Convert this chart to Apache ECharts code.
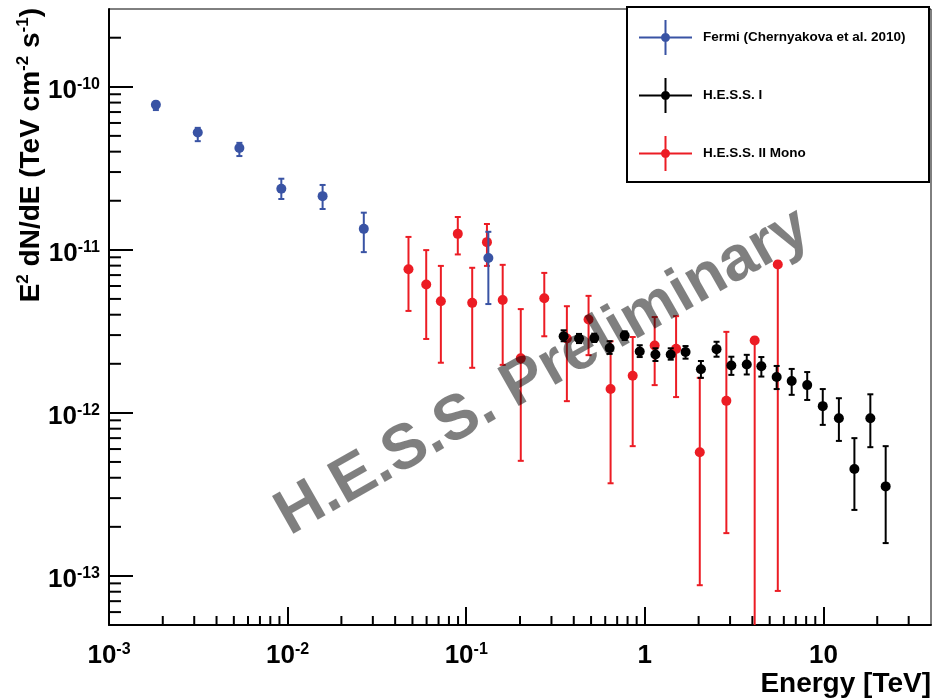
<!DOCTYPE html>
<html>
<head>
<meta charset="utf-8">
<script src="https://cdn.jsdelivr.net/npm/echarts@6/dist/echarts.min.js"></script>
<style>
  html, body { margin: 0; padding: 0; background: #fff; }
  #spectrumChart { width: 932px; height: 700px; }
</style>
</head>
<body>
<div id="spectrumChart"></div>
<script>
// Fermi (Chernyakova et al. 2010)
var fermiE  = [1.83e-3, 3.14e-3, 5.37e-3, 9.22e-3, 1.57e-2, 2.67e-2, 0.133];
var fermiF  = [7.76e-11, 5.25e-11, 4.21e-11, 2.37e-11, 2.135e-11, 1.345e-11, 8.9e-12];
var fermiLo = [7.2e-11, 4.64e-11, 3.76e-11, 2.05e-11, 1.78e-11, 9.68e-12, 4.65e-12];
var fermiHi = [8.1e-11, 5.6e-11, 4.53e-11, 2.73e-11, 2.5e-11, 1.69e-11, 1.29e-11];

// H.E.S.S. I
var hessE  = [0.351, 0.428, 0.521, 0.635, 0.771, 0.936, 1.146, 1.396, 1.69, 2.06, 2.52,
              3.05, 3.72, 4.49, 5.47, 6.64, 8.11, 9.91, 12.2, 14.9, 18.3, 22.3];
var hessF  = [2.95e-12, 2.86e-12, 2.88e-12, 2.50e-12, 2.98e-12, 2.38e-12, 2.28e-12, 2.28e-12, 2.36e-12, 1.85e-12, 2.46e-12,
              1.95e-12, 1.98e-12, 1.93e-12, 1.66e-12, 1.57e-12, 1.48e-12, 1.10e-12, 9.28e-13, 4.53e-13, 9.28e-13, 3.54e-13];
var hessLo = [2.75e-12, 2.68e-12, 2.72e-12, 2.30e-12, 2.80e-12, 2.20e-12, 2.08e-12, 2.12e-12, 2.15e-12, 1.64e-12, 2.21e-12,
              1.71e-12, 1.72e-12, 1.67e-12, 1.40e-12, 1.29e-12, 1.20e-12, 8.44e-13, 6.73e-13, 2.54e-13, 6.16e-13, 1.59e-13];
var hessHi = [3.21e-12, 3.05e-12, 3.06e-12, 2.75e-12, 3.16e-12, 2.60e-12, 2.49e-12, 2.49e-12, 2.57e-12, 2.08e-12, 2.73e-12,
              2.21e-12, 2.27e-12, 2.20e-12, 1.94e-12, 1.86e-12, 1.78e-12, 1.40e-12, 1.23e-12, 7.0e-13, 1.30e-12, 6.25e-13];

// H.E.S.S. II Mono
var monoE  = [0.0475, 0.0597, 0.0721, 0.0897, 0.108, 0.1306, 0.160, 0.202, 0.2735, 0.366,
              0.484, 0.643, 0.855, 1.135, 1.496, 2.03, 2.86, 4.12, 5.55];
var monoF  = [7.61e-12, 6.13e-12, 4.84e-12, 1.253e-11, 4.73e-12, 1.115e-11, 4.93e-12, 2.16e-12, 5.05e-12, 2.86e-12,
              3.74e-12, 1.40e-12, 1.69e-12, 2.59e-12, 2.47e-12, 5.74e-13, 1.185e-12, 2.78e-12, 8.13e-12];
var monoLo = [4.22e-12, 2.84e-12, 2.03e-12, 9.37e-12, 1.89e-12, 7.97e-12, 1.97e-12, 5.08e-13, 2.95e-12, 1.18e-12,
              2.26e-12, 3.7e-13, 6.25e-13, 1.48e-12, 1.25e-12, 8.77e-14, 1.83e-13, 1e-15, 8.09e-14];
var monoHi = [1.2e-11, 9.96e-12, 7.97e-12, 1.59e-11, 7.76e-12, 1.44e-11, 8.09e-12, 4.33e-12, 7.22e-12, 4.51e-12,
              5.22e-12, 2.75e-12, 2.92e-12, 3.87e-12, 3.92e-12, 1.64e-12, 3.14e-12, 2.9e-12, 8.5e-12];

var seriesNames = ['Fermi (Chernyakova et al. 2010)', 'H.E.S.S. I', 'H.E.S.S. II Mono'];
var seriesColors = ['#3953a4', '#000000', '#ec1c24'];

// axis ranges
var xMin = 1e-3, xMax = 40;
var yMin = 5e-14, yMax = 3e-10;
var minorMult = [2, 3, 4, 5, 6, 7, 8, 9];

var FONT = '"Liberation Sans", Arial, Helvetica, sans-serif';

function minorTicks(lo, hi) {
  var out = [];
  for (var e = Math.floor(Math.log10(lo)); e <= Math.ceil(Math.log10(hi)); e++) {
    for (var i = 0; i < minorMult.length; i++) {
      var v = minorMult[i] * Math.pow(10, e);
      if (v > lo * 1.0001 && v < hi * 0.9999) out.push(v);
    }
  }
  return out;
}
var xMinor = minorTicks(xMin, xMax).map(function (v) { return [v, yMin]; });
var yMinor = minorTicks(yMin, yMax).map(function (v) { return [xMin, v]; });

function pairs(xs, ys) { return xs.map(function (x, i) { return [x, ys[i]]; }); }
function bars(xs, lo, hi) { return xs.map(function (x, i) { return [x, lo[i], hi[i]]; }); }

function powLabel(v) {
  var lg = Math.log10(v);
  var e = Math.round(lg);
  if (Math.abs(lg - e) > 0.01) return '';
  if (e === 0) return '{b|1}';
  if (e === 1) return '{b|10}';
  return '{b|10}{s|' + e + '}';
}

var labelRich = {
  b: { fontSize: 26, fontWeight: 'bold', fontFamily: FONT, color: '#000', lineHeight: 34, verticalAlign: 'bottom' },
  s: { fontSize: 16, fontWeight: 'bold', fontFamily: FONT, color: '#000', lineHeight: 20, verticalAlign: 'top', padding: [7, 0, 0, 0] }
};

function errorBarRender(color) {
  return function (params, api) {
    var x = api.value(0);
    var lo = api.value(1), hi = api.value(2);
    var top = api.coord([x, Math.min(hi, yMax)]);
    var bot = api.coord([x, Math.max(lo, yMin)]);
    var st = { stroke: color, lineWidth: 2 };
    var kids = [{ type: 'line', shape: { x1: top[0], y1: top[1], x2: bot[0], y2: bot[1] }, style: st }];
    if (hi <= yMax) kids.push({ type: 'line', shape: { x1: top[0] - 3, y1: top[1], x2: top[0] + 3, y2: top[1] }, style: st });
    if (lo >= yMin) kids.push({ type: 'line', shape: { x1: bot[0] - 3, y1: bot[1], x2: bot[0] + 3, y2: bot[1] }, style: st });
    return { type: 'group', children: kids };
  };
}

var chart = echarts.init(document.getElementById('spectrumChart'), null, { renderer: 'canvas' });

// cross + dot icon like ROOT's legend markers
var legendIcon = 'path://M0,16.5h53v2h-53z M25.5,0h2v35h-2z M31,17.5a4.5,4.5 0 1,1 -9,0a4.5,4.5 0 1,1 9,0z';

chart.setOption({
  animation: false,
  backgroundColor: '#fff',
  textStyle: { fontFamily: FONT },
  grid: {
    left: 109, right: 1, top: 9, bottom: 75,
    show: true, borderColor: '#000', borderWidth: 1, backgroundColor: 'transparent'
  },
  legend: {
    orient: 'vertical',
    left: 639, top: 20,
    itemWidth: 53, itemHeight: 35, itemGap: 23,
    padding: 0,
    selectedMode: false,
    icon: legendIcon,
    data: seriesNames,
    textStyle: { fontSize: 13.5, fontWeight: 'bold', color: '#000', fontFamily: FONT, padding: [0, 0, 0, 6] },
    z: 20
  },
  xAxis: {
    type: 'log', logBase: 10, min: xMin, max: xMax,
    axisLine: { show: true, onZero: false, lineStyle: { color: '#000', width: 2 } },
    axisTick: { show: true, inside: true, length: 18, lineStyle: { color: '#000', width: 2 } },
    splitLine: { show: false },
    axisLabel: {
      margin: 10, showMinLabel: true, showMaxLabel: false,
      formatter: powLabel, rich: labelRich
    }
  },
  yAxis: {
    type: 'log', logBase: 10, min: yMin, max: yMax,
    axisLine: { show: true, onZero: false, lineStyle: { color: '#000', width: 2 } },
    axisTick: { show: true, inside: true, length: 24, lineStyle: { color: '#000', width: 2 } },
    splitLine: { show: false },
    axisLabel: {
      margin: 9, showMinLabel: false, showMaxLabel: false,
      formatter: powLabel, rich: labelRich
    }
  },
  graphic: [
    // legend box
    { type: 'rect', shape: { x: 627, y: 7, width: 302, height: 175 },
      style: { fill: '#fff', stroke: '#000', lineWidth: 2 }, z: 10 },
    // y title
    { type: 'text', x: 27, y: 8, rotation: Math.PI / 2,
      style: {
        text: '{b|E}{s|2}{b| dN/dE (TeV cm}{s|-2}{b| s}{s|-1}{b|)}',
        align: 'right', verticalAlign: 'middle',
        rich: {
          b: { fontSize: 28, fontWeight: 'bold', fontFamily: FONT, fill: '#000', lineHeight: 36, verticalAlign: 'bottom' },
          s: { fontSize: 17, fontWeight: 'bold', fontFamily: FONT, fill: '#000', lineHeight: 21, verticalAlign: 'top', padding: [6, 0, 0, 0] }
        }
      }, z: 10 },
    // x title
    { type: 'text', x: 931, y: 684,
      style: { text: 'Energy [TeV]', align: 'right', verticalAlign: 'middle',
        font: 'bold 28px ' + FONT, fill: '#000' }, z: 10 },
    // watermark
    { type: 'text', x: 543, y: 372, rotation: 29.6 * Math.PI / 180,
      style: { text: 'H.E.S.S. Preliminary', align: 'center', verticalAlign: 'middle',
        font: 'bold 63px ' + FONT, fill: 'rgba(0,0,0,0.5)' }, z: 100 }
  ],
  series: [
    {
      name: 'minorX', type: 'custom', coordinateSystem: 'cartesian2d', silent: true, clip: false,
      data: xMinor, z: 1,
      renderItem: function (params, api) {
        var p = api.coord([api.value(0), api.value(1)]);
        return { type: 'line', shape: { x1: p[0], y1: p[1], x2: p[0], y2: p[1] - 9 }, style: { stroke: '#000', lineWidth: 2 } };
      }
    },
    {
      name: 'minorY', type: 'custom', coordinateSystem: 'cartesian2d', silent: true, clip: false,
      data: yMinor, z: 1,
      renderItem: function (params, api) {
        var p = api.coord([api.value(0), api.value(1)]);
        return { type: 'line', shape: { x1: p[0], y1: p[1], x2: p[0] + 12, y2: p[1] }, style: { stroke: '#000', lineWidth: 2 } };
      }
    },
    { name: 'monoErr', type: 'custom', silent: true, clip: false, data: bars(monoE, monoLo, monoHi),
      renderItem: errorBarRender(seriesColors[2]), z: 2 },
    { name: seriesNames[2], type: 'scatter', data: pairs(monoE, monoF), symbolSize: 10,
      itemStyle: { color: seriesColors[2], opacity: 1 }, z: 3 },
    { name: 'hessErr', type: 'custom', silent: true, clip: false, data: bars(hessE, hessLo, hessHi),
      renderItem: errorBarRender(seriesColors[1]), z: 4 },
    { name: seriesNames[1], type: 'scatter', data: pairs(hessE, hessF), symbolSize: 10,
      itemStyle: { color: seriesColors[1], opacity: 1 }, z: 5 },
    { name: 'fermiErr', type: 'custom', silent: true, clip: false, data: bars(fermiE, fermiLo, fermiHi),
      renderItem: errorBarRender(seriesColors[0]), z: 6 },
    { name: seriesNames[0], type: 'scatter', data: pairs(fermiE, fermiF), symbolSize: 10,
      itemStyle: { color: seriesColors[0], opacity: 1 }, z: 7 }
  ]
});
</script>
</body>
</html>
